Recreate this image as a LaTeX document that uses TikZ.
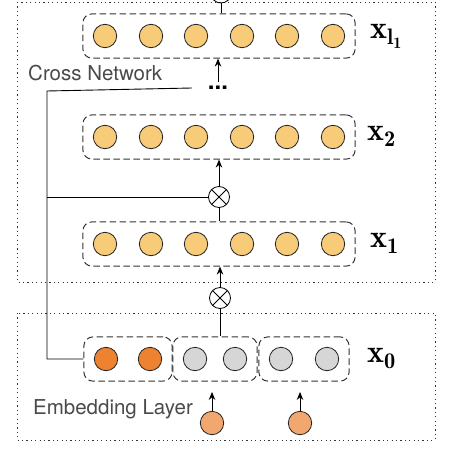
\documentclass[tikz,border=0pt]{standalone}
\usepackage{fontspec}
\usepackage{amsmath}
\usetikzlibrary{arrows.meta,fit}
\newfontfamily\labelfont{TeX Gyre Heros}
\definecolor{cellyellow}{HTML}{F7CB78}
\definecolor{cellorange}{HTML}{ED8331}
\definecolor{cellgray}{HTML}{D6D6D6}
\definecolor{cellinput}{HTML}{F2A76F}
\definecolor{textgray}{HTML}{4A4A4A}

\begin{document}
\begin{tikzpicture}[x=1pt,y=-1pt,
    neuron/.style={circle,draw=black!85,line width=0.8pt,minimum size=23.4pt,inner sep=0pt},
    rowbox/.style={draw=black!80,line width=1pt,dash pattern=on 6.5pt off 3.5pt,rounded corners=9pt,inner sep=10pt},
    panel/.style={draw=black!80,line width=0.9pt,dash pattern=on 1.2pt off 3.2pt},
    mult/.style={circle,draw,line width=0.8pt,minimum size=21pt,inner sep=0pt,
        path picture={\draw[line width=0.8pt] (path picture bounding box.south west) -- (path picture bounding box.north east)
            (path picture bounding box.north west) -- (path picture bounding box.south east);}},
    arr/.style={-{Stealth[length=8pt,width=6.5pt]},line width=0.9pt},
    vec/.style={font=\fontsize{32}{34}\selectfont,inner sep=0pt,anchor=base west},
    tag/.style={font=\labelfont\fontsize{20.5}{24}\selectfont,text=textgray,inner sep=0pt,anchor=west}]
    \path[use as bounding box,clip] (0,0) rectangle (452,460);

    % Cross network panel
    \draw[panel] (17,2) rectangle (435,282);
    \node[tag] (cn) at (28,73) {Cross Network};

    % Layer x_l1
    \node[neuron,fill=cellyellow] (l1) at (105,36) {};
    \node[neuron,fill=cellyellow] (l2) at (151,36) {};
    \node[neuron,fill=cellyellow] (l3) at (196,36) {};
    \node[neuron,fill=cellyellow] (l4) at (242,36) {};
    \node[neuron,fill=cellyellow] (l5) at (287,36) {};
    \node[neuron,fill=cellyellow] (l6) at (333,36) {};
    \node[rowbox,fit=(l1)(l6)] (rowl) {};
    \node[vec] (labl) at (370,38) {$\mathbf{x_{l_1}}$};
    \node[mult] (crosstop) at (221,-7.5) {};
    \draw[line width=0.9pt] (crosstop.south) -- (crosstop.south |- rowl.north);

    % Dots
    \node[font=\labelfont\bfseries\fontsize{24}{24}\selectfont,inner sep=4pt] (dots) at (218,88) {...};
    \draw[arr] (dots.north) -- (dots.north |- rowl.south);

    % Layer x_2
    \node[neuron,fill=cellyellow] (b1) at (105,137) {};
    \node[neuron,fill=cellyellow] (b2) at (151,137) {};
    \node[neuron,fill=cellyellow] (b3) at (196,137) {};
    \node[neuron,fill=cellyellow] (b4) at (242,137) {};
    \node[neuron,fill=cellyellow] (b5) at (287,137) {};
    \node[neuron,fill=cellyellow] (b6) at (333,137) {};
    \node[rowbox,fit=(b1)(b6)] (rowb) {};
    \node[vec] (labb) at (367,140) {$\mathbf{x_2}$};
    \node[mult] (cross1) at (219,197) {};
    \draw[arr] (cross1.north) -- (cross1.north |- rowb.south);

    % Layer x_1
    \node[neuron,fill=cellyellow] (a1) at (105,244) {};
    \node[neuron,fill=cellyellow] (a2) at (151,244) {};
    \node[neuron,fill=cellyellow] (a3) at (196,244) {};
    \node[neuron,fill=cellyellow] (a4) at (242,244) {};
    \node[neuron,fill=cellyellow] (a5) at (287,244) {};
    \node[neuron,fill=cellyellow] (a6) at (333,244) {};
    \node[rowbox,fit=(a1)(a6)] (rowa) {};
    \node[vec] (laba) at (370,247) {$\mathbf{x_1}$};
    \draw[line width=0.9pt] (cross1.south) -- (cross1.south |- rowa.north);
    \node[mult] (cross2) at (220,298) {};
    \draw[arr] (cross2.north) -- (cross2.north |- rowa.south);

    % Embedding layer panel
    \draw[panel] (17,313) rectangle (435,440);
    \node[tag] (el) at (33,409) {Embedding Layer};

    % Layer x_0
    \node[neuron,fill=cellorange] (e1) at (106,359) {};
    \node[neuron,fill=cellorange] (e2) at (150,359) {};
    \node[neuron,fill=cellgray] (e3) at (195,359) {};
    \node[neuron,fill=cellgray] (e4) at (235,359) {};
    \node[neuron,fill=cellgray] (e5) at (281,359) {};
    \node[neuron,fill=cellgray] (e6) at (327,359) {};
    \node[rowbox,fit=(e1)(e2)] (g1) {};
    \node[rowbox,fit=(e3)(e4)] (g2) {};
    \node[rowbox,fit=(e5)(e6)] (g3) {};
    \node[vec] (lab0) at (367,362) {$\mathbf{x_0}$};
    \draw[line width=0.9pt] (cross2.south) -- (cross2.south |- g2.north);

    % Inputs
    \node[neuron,fill=cellinput] (in1) at (212,423) {};
    \node[neuron,fill=cellinput] (in2) at (300,423) {};
    \draw[arr] (in1.north) -- ++(0,-19);
    \draw[arr] (in2.north) -- ++(0,-19);

    % Skip line from x_0
    \coordinate (spine) at (47,91);
    \draw[line width=0.9pt] ([xshift=-12pt]dots.west) -- (spine) |- (g1.west);
    \draw[line width=0.9pt] (cross1.west) -- (cross1.west -| spine);
\end{tikzpicture}
\end{document}
